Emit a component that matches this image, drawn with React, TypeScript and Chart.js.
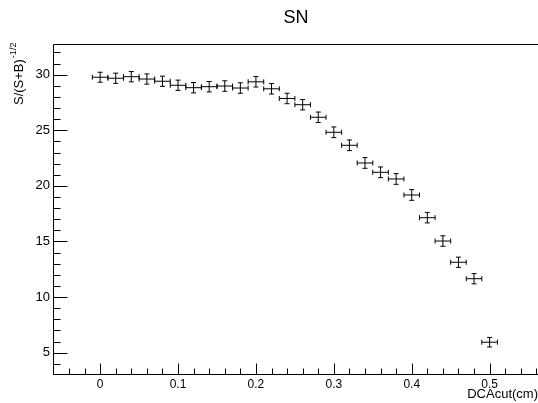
import React, { useEffect, useRef } from "react";
import { Chart, registerables } from "chart.js";

Chart.register(...registerables);

const titleText = "SN";
const xTitle = "DCAcut(cm)";
const yTitleMain = "S/(S+B)";
const yTitleSup = "-1/2";

const dcaCut = [0, 0.02, 0.04, 0.06, 0.08, 0.1, 0.12, 0.14, 0.16, 0.18, 0.2, 0.22, 0.24, 0.26, 0.28, 0.3, 0.32, 0.34, 0.36, 0.38, 0.4, 0.42, 0.44, 0.46, 0.48, 0.5];
const significance = [29.77, 29.68, 29.82, 29.61, 29.41, 29.05, 28.83, 28.92, 28.98, 28.8, 29.36, 28.73, 27.86, 27.3, 26.17, 24.82, 23.65, 22.06, 21.22, 20.62, 19.18, 17.14, 15.04, 13.13, 11.65, 5.94];
const sigErr = [0.45, 0.46, 0.46, 0.46, 0.46, 0.46, 0.47, 0.47, 0.47, 0.47, 0.47, 0.47, 0.47, 0.47, 0.47, 0.48, 0.48, 0.48, 0.48, 0.48, 0.48, 0.47, 0.47, 0.46, 0.46, 0.43];
const xErr = [0.01, 0.01, 0.01, 0.01, 0.01, 0.01, 0.01, 0.01, 0.01, 0.01, 0.01, 0.01, 0.01, 0.01, 0.01, 0.01, 0.01, 0.01, 0.01, 0.01, 0.01, 0.01, 0.01, 0.01, 0.01, 0.01];

const xMajorTicks = [0, 0.1, 0.2, 0.3, 0.4, 0.5];
const xMinorTicks = [-0.06, -0.04, -0.02, 0.02, 0.04, 0.06, 0.08, 0.12, 0.14, 0.16, 0.18, 0.22, 0.24, 0.26, 0.28, 0.32, 0.34, 0.36, 0.38, 0.42, 0.44, 0.46, 0.48, 0.52, 0.54, 0.56];
const yMajorTicks = [5, 10, 15, 20, 25, 30];
const yMinorTicks = [4, 6, 7, 8, 9, 11, 12, 13, 14, 16, 17, 18, 19, 21, 22, 23, 24, 26, 27, 28, 29, 31, 32];

const X_MIN = -0.0605;
const X_MAX = 0.5621;
const Y_MIN = 3.08;
const Y_MAX = 32.76;

const FONT = "'Liberation Sans', Arial, Helvetica, sans-serif";

const rootPlugin = {
  id: "rootStyle",
  afterDatasetsDraw(chart: any) {
    const ctx = chart.ctx as CanvasRenderingContext2D;
    const { left, right, top, bottom } = chart.chartArea;
    const xs = chart.scales.x;
    const ys = chart.scales.y;
    ctx.save();
    ctx.strokeStyle = "#000";
    ctx.lineWidth = 1;

    // frame lines
    const L = Math.round(left) + 0.5;
    const B = Math.round(bottom) + 0.5;
    const T = Math.round(top) + 0.5;
    ctx.beginPath();
    ctx.moveTo(L, T);
    ctx.lineTo(L, B);
    ctx.lineTo(right, B);
    ctx.moveTo(L, T);
    ctx.lineTo(right, T);
    ctx.stroke();

    // y ticks
    ctx.beginPath();
    yMajorTicks.forEach((v) => {
      const p = Math.round(ys.getPixelForValue(v)) + 0.5;
      ctx.moveTo(L, p);
      ctx.lineTo(L + 14, p);
    });
    yMinorTicks.forEach((v) => {
      const p = Math.round(ys.getPixelForValue(v)) + 0.5;
      if (p < top || p > bottom) return;
      ctx.moveTo(L, p);
      ctx.lineTo(L + 7, p);
    });
    // x ticks
    xMajorTicks.forEach((v) => {
      const p = Math.round(xs.getPixelForValue(v)) + 0.5;
      ctx.moveTo(p, B);
      ctx.lineTo(p, B - 11);
    });
    xMinorTicks.forEach((v) => {
      const p = Math.round(xs.getPixelForValue(v)) + 0.5;
      if (p < left || p > right) return;
      ctx.moveTo(p, B);
      ctx.lineTo(p, B - 6);
    });
    ctx.stroke();

    // error bars
    const cap = 2.5;
    ctx.beginPath();
    dcaCut.forEach((xv, i) => {
      const yv = significance[i];
      const px = xs.getPixelForValue(xv);
      const py = ys.getPixelForValue(yv);
      const x0 = xs.getPixelForValue(xv - xErr[i]);
      const x1 = xs.getPixelForValue(xv + xErr[i]);
      const y0 = ys.getPixelForValue(yv + sigErr[i]);
      const y1 = ys.getPixelForValue(yv - sigErr[i]);
      ctx.moveTo(x0, py);
      ctx.lineTo(x1, py);
      ctx.moveTo(x0, py - cap);
      ctx.lineTo(x0, py + cap);
      ctx.moveTo(x1, py - cap);
      ctx.lineTo(x1, py + cap);
      ctx.moveTo(px, y0);
      ctx.lineTo(px, y1);
      ctx.moveTo(px - cap, y0);
      ctx.lineTo(px + cap, y0);
      ctx.moveTo(px - cap, y1);
      ctx.lineTo(px + cap, y1);
    });
    ctx.stroke();

    // title
    ctx.fillStyle = "#000";
    ctx.font = `18px ${FONT}`;
    ctx.textAlign = "center";
    ctx.textBaseline = "alphabetic";
    ctx.fillText(titleText, 296, 23);

    // x axis title
    ctx.font = `13px ${FONT}`;
    ctx.textAlign = "right";
    ctx.fillText(xTitle, 538, 398);

    // y axis title
    ctx.save();
    ctx.translate(23, 105);
    ctx.rotate(-Math.PI / 2);
    ctx.textAlign = "left";
    ctx.textBaseline = "alphabetic";
    ctx.font = `13px ${FONT}`;
    ctx.fillText(yTitleMain, 0, 0);
    const w = ctx.measureText(yTitleMain).width;
    ctx.font = `9px ${FONT}`;
    ctx.fillText(yTitleSup, w + 1, -7);
    ctx.restore();

    ctx.restore();
  },
};

export default function App() {
  const canvasRef = useRef<HTMLCanvasElement | null>(null);

  useEffect(() => {
    if (!canvasRef.current) return;
    const chart = new Chart(canvasRef.current, {
      type: "scatter",
      data: {
        datasets: [
          {
            label: "SN",
            data: dcaCut.map((x, i) => ({ x, y: significance[i] })),
            pointRadius: 0,
            showLine: false,
          },
        ],
      },
      options: {
        animation: false,
        responsive: false,
        devicePixelRatio: 1,
        layout: { padding: { left: 0, right: 0, top: 44, bottom: 0 } },
        plugins: {
          legend: { display: false },
          title: { display: false },
          tooltip: { enabled: false },
        },
        scales: {
          x: {
            type: "linear",
            min: X_MIN,
            max: X_MAX,
            grid: { display: false, drawTicks: false },
            border: { display: false },
            afterBuildTicks: (scale: any) => {
              scale.ticks = xMajorTicks.map((v) => ({ value: v }));
            },
            afterFit: (scale: any) => {
              scale.height = 29;
            },
            ticks: {
              padding: 3,
              color: "#000",
              maxRotation: 0,
              autoSkip: false,
              font: { family: FONT, size: 12 },
              callback: (v: any) => String(Math.round(Number(v) * 10) / 10),
            },
          },
          y: {
            type: "linear",
            min: Y_MIN,
            max: Y_MAX,
            grid: { display: false, drawTicks: false },
            border: { display: false },
            afterBuildTicks: (scale: any) => {
              scale.ticks = yMajorTicks.map((v) => ({ value: v }));
            },
            afterFit: (scale: any) => {
              scale.width = 53;
            },
            ticks: {
              padding: 3,
              color: "#000",
              autoSkip: false,
              font: { family: FONT, size: 13 },
              callback: (v: any) => String(v),
            },
          },
        },
      },
      plugins: [rootPlugin],
    });
    return () => chart.destroy();
  }, []);

  return (
    <div style={{ position: "absolute", left: 0, top: 0, width: 538, height: 403, background: "#fff" }}>
      <canvas ref={canvasRef} width={538} height={403} style={{ width: 538, height: 403 }} />
    </div>
  );
}
